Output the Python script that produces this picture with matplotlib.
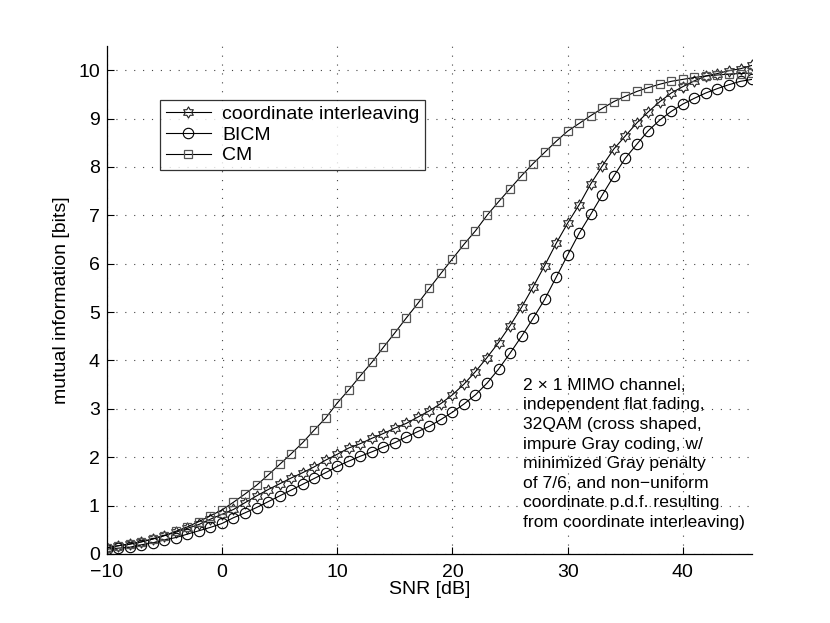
import matplotlib
matplotlib.use("Agg")
import matplotlib.pyplot as plt
import numpy as np
from matplotlib.path import Path

plt.rcParams['font.family'] = ['Liberation Sans', 'DejaVu Sans']

SNR = list(range(-10, 47))

CoordInterleaving = [0.13, 0.17, 0.21, 0.25, 0.31, 0.38, 0.45, 0.53, 0.61, 0.72,
                     0.82, 0.92, 1.06, 1.20, 1.33, 1.45, 1.57, 1.68, 1.80, 1.94,
                     2.06, 2.19, 2.28, 2.39, 2.49, 2.60, 2.70, 2.83, 2.96, 3.11,
                     3.29, 3.51, 3.77, 4.06, 4.37, 4.72, 5.10, 5.52, 5.96, 6.42,
                     6.84, 7.22, 7.65, 8.02, 8.37, 8.64, 8.91, 9.14, 9.35, 9.53,
                     9.66, 9.78, 9.88, 9.93, 9.99, 10.03, 10.10]

BICM = [0.10, 0.12, 0.14, 0.19, 0.23, 0.29, 0.34, 0.41, 0.48, 0.55,
        0.63, 0.75, 0.85, 0.96, 1.08, 1.20, 1.32, 1.44, 1.56, 1.68,
        1.81, 1.92, 2.02, 2.11, 2.21, 2.30, 2.42, 2.53, 2.64, 2.78,
        2.93, 3.10, 3.29, 3.53, 3.82, 4.15, 4.50, 4.87, 5.26, 5.72,
        6.18, 6.63, 7.02, 7.42, 7.81, 8.18, 8.47, 8.75, 8.97, 9.15,
        9.30, 9.42, 9.53, 9.62, 9.70, 9.77, 9.81]

CM = [0.13, 0.17, 0.20, 0.25, 0.31, 0.38, 0.47, 0.56, 0.67, 0.79,
      0.91, 1.07, 1.24, 1.42, 1.63, 1.85, 2.07, 2.30, 2.56, 2.81,
      3.12, 3.39, 3.68, 3.96, 4.27, 4.57, 4.88, 5.18, 5.49, 5.80,
      6.10, 6.40, 6.68, 7.00, 7.28, 7.55, 7.82, 8.07, 8.30, 8.53,
      8.74, 8.90, 9.06, 9.21, 9.35, 9.46, 9.56, 9.64, 9.71, 9.77,
      9.81, 9.85, 9.88, 9.90, 9.92, 9.93, 9.94]

Labels = ["coordinate interleaving", "BICM", "CM"]
XTicks = [-10, 0, 10, 20, 30, 40]
YTicks = list(range(0, 11))

Note = ("2 \u00d7 1 MIMO channel,\n"
        "independent flat fading,\n"
        "32QAM (cross shaped,\n"
        "impure Gray coding, w/\n"
        "minimized Gray penalty\n"
        "of 7/6, and non\u2212uniform\n"
        "coordinate p.d.f. resulting\n"
        "from coordinate interleaving)")


def hexagram():
    # six pointed star outline, like the MATLAB 'h' marker
    Ang = np.pi / 2 + np.arange(12) * np.pi / 6
    Rad = np.where(np.arange(12) % 2 == 0, 1.0, 1 / np.sqrt(3))
    Verts = np.column_stack([Rad * np.cos(Ang), Rad * np.sin(Ang)])
    Verts = np.vstack([Verts, Verts[:1]])
    Codes = [Path.MOVETO] + [Path.LINETO] * 11 + [Path.CLOSEPOLY]
    return Path(Verts, Codes)


fig = plt.figure(figsize=(8.3, 6.23), dpi=100)
ax = fig.add_axes([0.1286, 0.1108, 0.7775, 0.8154])

ax.plot(SNR, CoordInterleaving, color='black', lw=0.8, marker=hexagram(),
        ms=8, mfc='none', mec='#222222', mew=0.8, label=Labels[0])
ax.plot(SNR, BICM, color='black', lw=0.8, marker='o',
        ms=7.5, mfc='none', mec='black', mew=0.8, label=Labels[1])
ax.plot(SNR, CM, color='black', lw=0.8, marker='s',
        ms=5.5, mfc='none', mec='#555555', mew=0.9, label=Labels[2])

ax.set_xlim(-10, 46)
ax.set_ylim(0, 10.5)
ax.set_xticks(XTicks)
ax.set_yticks(YTicks)
ax.tick_params(direction='in', length=5, labelsize=14, width=0.8)
ax.tick_params(axis='x', pad=7)
ax.tick_params(axis='y', pad=5)
ax.grid(True, color='#444444', linestyle=(0, (1, 7)), linewidth=0.8)
for side in ['top', 'right']:
    ax.spines[side].set_visible(False)
for side in ['left', 'bottom']:
    ax.spines[side].set_linewidth(0.9)

ax.set_xlabel("SNR [dB]", fontsize=14, labelpad=0)
ax.set_ylabel("mutual information [bits]", fontsize=14, labelpad=6)

ax.text(26.1, 3.64, Note, fontsize=12.6, va='top', ha='left', linespacing=1.38)

leg = ax.legend(loc='upper left', bbox_to_anchor=(0.0826, 0.894), borderaxespad=0,
                fontsize=14, frameon=True, fancybox=False, handlelength=2.3,
                labelspacing=0.15, borderpad=0.3, handletextpad=0.6)
leg.get_frame().set_edgecolor('black')
leg.get_frame().set_linewidth(0.9)

fig.savefig("out.png", dpi=100)
